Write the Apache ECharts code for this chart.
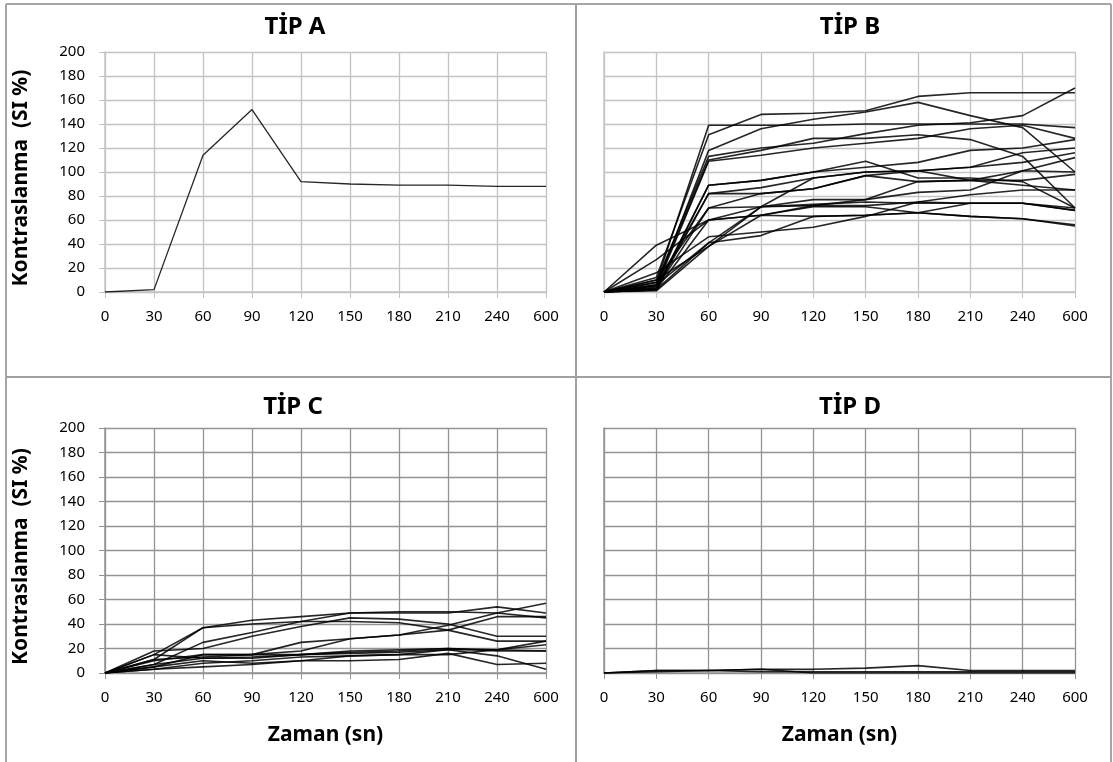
<!DOCTYPE html>
<html lang="tr">
<head>
<meta charset="UTF-8">
<title>TİP A-D kontraslanma</title>
<style>
  html, body { margin: 0; padding: 0; background: #fff; }
  #chart { width: 1113px; height: 762px; }
</style>
</head>
<body>
<div id="chart"></div>
<script src="https://cdn.jsdelivr.net/npm/echarts@6/dist/echarts.min.js"></script>
<script>
// zaman noktaları (sn)
const zaman = ['0', '30', '60', '90', '120', '150', '180', '210', '240', '600'];
const yTicks = [0, 200, 20];   // min, max, interval

// TİP A: tek eğri
const tipA = [
  [0, 2, 114, 152, 92, 90, 89, 89, 88, 88]
];

// TİP B: çok sayıda eğri (göz kararı okundu)
const tipB = [
  [0, 12, 131, 148, 149, 151, 163, 166, 166, 166],
  [0, 8, 139, 139, 139, 140, 140, 140, 140, 137],
  [0, 5, 118, 136, 144, 150, 158, 147, 137, 100],
  [0, 8, 113, 120, 124, 132, 139, 141, 147, 170],
  [0, 6, 110, 118, 128, 128, 131, 127, 113, 70],
  [0, 4, 109, 114, 120, 124, 128, 136, 139, 128],
  [0, 3, 89, 93, 100, 104, 108, 118, 120, 127],
  [0, 5, 82, 87, 95, 100, 101, 104, 116, 120],
  [0, 2, 82, 82, 86, 97, 101, 104, 108, 116],
  [0, 10, 70, 82, 86, 97, 92, 93, 101, 112],
  [0, 3, 70, 71, 77, 77, 83, 85, 101, 100],
  [0, 39, 60, 71, 72, 77, 92, 93, 93, 98],
  [0, 27, 60, 64, 72, 72, 75, 81, 85, 85],
  [0, 2, 60, 64, 63, 64, 66, 74, 74, 68],
  [0, 16, 46, 50, 54, 63, 75, 74, 74, 70],
  [0, 2, 41, 47, 63, 64, 66, 63, 61, 56],
  [0, 1, 38, 64, 71, 71, 66, 63, 61, 55],
  [0, 10, 38, 71, 73, 75, 74, 74, 74, 68],
  [0, 6, 41, 71, 95, 100, 101, 93, 89, 85],
  [0, 2, 89, 93, 100, 109, 95, 95, 92, 70]
];

// TİP C
const tipC = [
  [0, 11, 37, 43, 46, 49, 49, 49, 54, 49],
  [0, 15, 37, 40, 42, 49, 50, 50, 49, 45],
  [0, 7, 25, 33, 42, 42, 41, 35, 26, 26],
  [0, 18, 20, 30, 38, 45, 44, 40, 30, 30],
  [0, 5, 15, 15, 25, 28, 31, 39, 49, 57],
  [0, 10, 15, 15, 18, 28, 31, 35, 46, 46],
  [0, 11, 13, 15, 15, 18, 19, 20, 19, 26],
  [0, 7, 12, 13, 15, 17, 18, 20, 18, 18],
  [0, 3, 8, 10, 13, 14, 15, 19, 14, 3],
  [0, 3, 5, 7, 10, 10, 11, 16, 7, 8],
  [0, 15, 12, 12, 15, 16, 17, 19, 19, 23],
  [0, 5, 10, 8, 10, 14, 15, 15, 19, 18]
];

// TİP D
const tipD = [
  [0, 2, 2, 3, 3, 4, 6, 2, 2, 2],
  [0, 1, 2, 3, 0, 0, 0, 0, 0, 0],
  [0, 2, 2, 1, 1, 1, 1, 1, 1, 1]
];

const basliklar = ['TİP A', 'TİP B', 'TİP C', 'TİP D'];
const yAdi = 'Kontraslanma  (SI %)';
const xAdi = 'Zaman (sn)';

const font = '"Noto Sans", "Open Sans", sans-serif';

const grids = [
  { left: 105, top: 52, right: 567, bottom: 470 },
  { left: 604, top: 52, right: 38, bottom: 470 },
  { left: 105, top: 428, right: 567, bottom: 89 },
  { left: 604, top: 428, right: 38, bottom: 89 }
];
const gridRenk = ['#c4c4c4', '#c4c4c4', '#939393', '#939393'];

const xAxes = grids.map((g, i) => ({
  type: 'category',
  gridIndex: i,
  data: zaman,
  boundaryGap: false,
  name: i >= 2 ? xAdi : '',
  nameLocation: 'middle',
  nameGap: 52,
  nameTextStyle: { fontFamily: font, fontSize: 21, fontWeight: 'bold', color: '#000' },
  axisLine: { lineStyle: { color: gridRenk[i], width: 1.5 } },
  axisTick: { show: true, alignWithLabel: true, length: 6, lineStyle: { color: gridRenk[i] } },
  axisLabel: { fontFamily: font, fontSize: 15, color: '#000', margin: 17 },
  splitLine: { show: true, lineStyle: { color: gridRenk[i], width: 1.3 } }
}));

const yAxes = grids.map((g, i) => ({
  type: 'value',
  gridIndex: i,
  min: yTicks[0],
  max: yTicks[1],
  interval: yTicks[2],
  name: i % 2 === 0 ? yAdi : '',
  nameLocation: 'middle',
  nameGap: 73,
  nameTextStyle: { fontFamily: font, fontSize: 21, fontWeight: 'bold', color: '#000', padding: [0, 0, 0, -12] },
  axisLine: { show: true, lineStyle: { color: gridRenk[i], width: 1.5 } },
  axisTick: { show: i % 2 === 0, length: 6, lineStyle: { color: gridRenk[i] } },
  axisLabel: { show: i % 2 === 0, fontFamily: font, fontSize: 15, color: '#000', margin: 20 },
  splitLine: { show: true, lineStyle: { color: gridRenk[i], width: 1.3 } }
}));

const series = [];
[tipA, tipB, tipC, tipD].forEach((grup, i) => {
  grup.forEach(d => {
    series.push({
      type: 'line',
      xAxisIndex: i,
      yAxisIndex: i,
      data: d,
      symbol: 'none',
      silent: true,
      lineStyle: { color: '#000', width: i === 0 ? 1.3 : 1.6, opacity: 0.85 }
    });
  });
});

const baslikYer = [[290, 10], [845, 10], [288, 390], [845, 390]];
const title = basliklar.map((t, i) => ({
  text: t,
  left: baslikYer[i][0],
  top: baslikYer[i][1],
  textAlign: 'center',
  textStyle: { fontFamily: font, fontSize: 24, fontWeight: 'bold', color: '#000' }
}));

const chart = echarts.init(document.getElementById('chart'), null, { renderer: 'canvas' });
chart.setOption({
  backgroundColor: '#fff',
  animation: false,
  title: title,
  grid: grids,
  xAxis: xAxes,
  yAxis: yAxes,
  series: series,
  graphic: [
    { type: 'line', shape: { x1: 6, y1: 4, x2: 1111, y2: 4 }, style: { stroke: '#a6a6a6', lineWidth: 2 } },
    { type: 'line', shape: { x1: 6, y1: 4, x2: 6, y2: 762 }, style: { stroke: '#a6a6a6', lineWidth: 2 } },
    { type: 'line', shape: { x1: 1111, y1: 4, x2: 1111, y2: 762 }, style: { stroke: '#a6a6a6', lineWidth: 2 } },
    { type: 'line', shape: { x1: 576, y1: 4, x2: 576, y2: 762 }, style: { stroke: '#a0a0a0', lineWidth: 2 } },
    { type: 'line', shape: { x1: 6, y1: 377, x2: 1111, y2: 377 }, style: { stroke: '#a0a0a0', lineWidth: 2 } }
  ]
});
</script>
</body>
</html>
